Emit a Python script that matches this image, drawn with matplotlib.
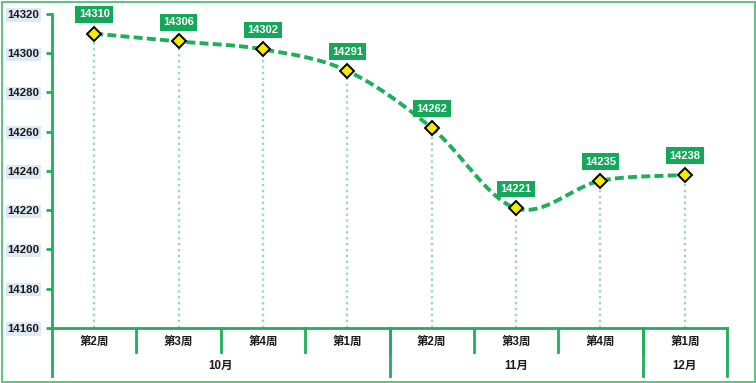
import numpy as np
import matplotlib
matplotlib.use('Agg')
import matplotlib.pyplot as plt
from matplotlib.patches import Rectangle

plt.rcParams['font.family'] = ['Liberation Sans', 'Noto Sans CJK SC', 'DejaVu Sans']
plt.rcParams['font.weight'] = 'bold'

weeks = ['第2周', '第3周', '第4周', '第1周', '第2周', '第3周', '第4周', '第1周']
months = ['10月', '11月', '12月']
month_span = [4, 3, 1]
values = [14310, 14306, 14302, 14291, 14262, 14221, 14235, 14238]
yticks = [14160, 14180, 14200, 14220, 14240, 14260, 14280, 14300, 14320]

green = '#1fae5c'
light_green = '#9fd9b3'
box_green = '#15a85a'

W, H = 756, 383
fig = plt.figure(figsize=(W / 100, H / 100), dpi=100)
ax = fig.add_axes([52 / W, (H - 328) / H, (727 - 52) / W, (328 - 14) / H])

n = len(values)
x = np.arange(n) + 0.5
y = np.array(values, dtype=float)

# smoothed line (catmull-rom in screen-ish units, like excel's smooth line)
sx, sy = 84.4, 314 / 160
px, py = x * sx, y * sy
P = np.column_stack([px, py])
P = np.vstack([2 * P[0] - P[1], P, 2 * P[-1] - P[-2]])
curve = []
for i in range(1, len(P) - 2):
    p0, p1, p2, p3 = P[i - 1], P[i], P[i + 1], P[i + 2]
    t = np.linspace(0, 1, 30)[:, None]
    seg = 0.5 * ((2 * p1) + (-p0 + p2) * t + (2 * p0 - 5 * p1 + 4 * p2 - p3) * t ** 2
                 + (-p0 + 3 * p1 - 3 * p2 + p3) * t ** 3)
    curve.append(seg)
curve = np.vstack(curve)
ax.plot(curve[:, 0] / sx, curve[:, 1] / sy, color=green, lw=2.8,
        linestyle=(0, (2.3, 1.1)), zorder=3)

# drop lines
for xi, yi in zip(x, y):
    ax.plot([xi, xi], [14160, yi], color=light_green, lw=1.7, linestyle=(0, (1, 1.5)), zorder=1)

ax.plot(x, y, linestyle='none', marker='D', markersize=7, markerfacecolor='#f5ea00',
        markeredgecolor='black', markeredgewidth=1.4, zorder=4)

for xi, yi in zip(x, y):
    ax.annotate(f'{int(yi)}', (xi, yi), xytext=(0, 13.8), textcoords='offset points',
                ha='center', va='center', color='white', fontsize=8, fontweight='bold',
                bbox=dict(boxstyle='square,pad=0.3', facecolor=box_green, edgecolor='none'),
                zorder=5)

ax.set_xlim(0, n)
ax.set_ylim(14160, 14320)
ax.set_yticks(yticks)
ax.set_yticklabels([str(v) for v in yticks])
for lab in ax.get_yticklabels():
    lab.set_fontsize(8.2)
    lab.set_fontweight('bold')
    lab.set_color('#1a1a1a')
    lab.set_bbox(dict(facecolor='#dde9f4', edgecolor='none', pad=1.2))
ax.tick_params(axis='y', length=4, width=2, color=green, pad=5)
ax.set_xticks([])
for s in ['top', 'right']:
    ax.spines[s].set_visible(False)
ax.spines['left'].set_color(green)
ax.spines['left'].set_linewidth(2)
ax.spines['bottom'].set_color(green)
ax.spines['bottom'].set_linewidth(2)

# category axis below
tr = ax.get_xaxis_transform()
d1, d2 = -24 / 314, -48 / 314
for i in range(1, n):
    ax.plot([i, i], [0, d1], color=green, lw=2, transform=tr, clip_on=False)
bounds = np.cumsum([0] + month_span)
for b in bounds:
    ax.plot([b, b], [0, d2], color=green, lw=2, transform=tr, clip_on=False)
for i, w in enumerate(weeks):
    ax.text(i + 0.5, -15 / 314, w, transform=tr, ha='center', va='center',
            fontsize=8.3, fontweight='bold', color='#1a1a1a')
for m, a, b in zip(months, bounds[:-1], bounds[1:]):
    ax.text((a + b) / 2, -38 / 314, m, transform=tr, ha='center', va='center',
            fontsize=8.3, fontweight='bold', color='#1a1a1a')

fig.patches.append(Rectangle((1.5 / W, 1.5 / H), (W - 3) / W, (H - 3) / H, transform=fig.transFigure,
                             fill=False, edgecolor='#3dbb6e', lw=1.2))

fig.savefig('out.png', dpi=100)
